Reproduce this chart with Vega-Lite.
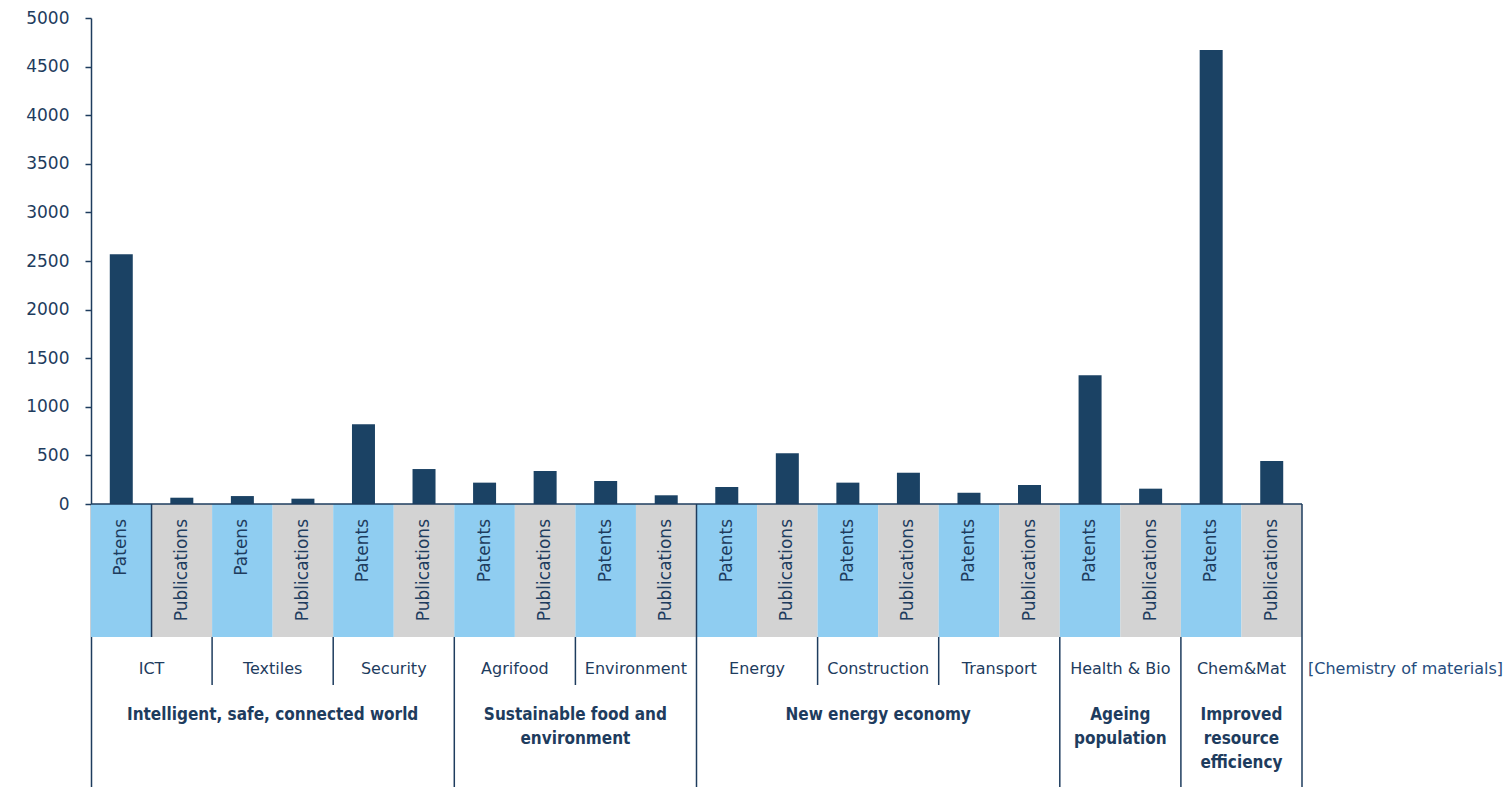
{
  "$schema": "https://vega.github.io/schema/vega-lite/v6.json",
  "width": 1211,
  "height": 769,
  "autosize": {"type": "none"},
  "padding": {"left": 91, "top": 18, "right": 209, "bottom": 0},
  "background": "white",
  "config": {
    "view": {"stroke": null},
    "text": {"font": "DejaVu Sans", "color": "#1e3c5e"},
    "rule": {"color": "#1e3c5e", "strokeWidth": 1.5}
  },
  "datasets": {
    "bars": [
      {"id": "ICT-P", "sector": "ICT", "type": "Patens", "value": 2570},
      {"id": "ICT-U", "sector": "ICT", "type": "Publications", "value": 65},
      {"id": "TEX-P", "sector": "Textiles", "type": "Patens", "value": 82},
      {"id": "TEX-U", "sector": "Textiles", "type": "Publications", "value": 55},
      {"id": "SEC-P", "sector": "Security", "type": "Patents", "value": 821},
      {"id": "SEC-U", "sector": "Security", "type": "Publications", "value": 360},
      {"id": "AGR-P", "sector": "Agrifood", "type": "Patents", "value": 220},
      {"id": "AGR-U", "sector": "Agrifood", "type": "Publications", "value": 340},
      {"id": "ENV-P", "sector": "Environment", "type": "Patents", "value": 237},
      {"id": "ENV-U", "sector": "Environment", "type": "Publications", "value": 90},
      {"id": "ENE-P", "sector": "Energy", "type": "Patents", "value": 175},
      {"id": "ENE-U", "sector": "Energy", "type": "Publications", "value": 522},
      {"id": "CON-P", "sector": "Construction", "type": "Patents", "value": 220},
      {"id": "CON-U", "sector": "Construction", "type": "Publications", "value": 322},
      {"id": "TRA-P", "sector": "Transport", "type": "Patents", "value": 116},
      {"id": "TRA-U", "sector": "Transport", "type": "Publications", "value": 196},
      {"id": "HEA-P", "sector": "Health & Bio", "type": "Patents", "value": 1325},
      {"id": "HEA-U", "sector": "Health & Bio", "type": "Publications", "value": 158},
      {"id": "CHE-P", "sector": "Chem&Mat", "type": "Patents", "value": 4672},
      {"id": "CHE-U", "sector": "Chem&Mat", "type": "Publications", "value": 443}
    ],
    "sectors": [
      {"sector": "ICT", "at": "ICT-U"},
      {"sector": "Textiles", "at": "TEX-U"},
      {"sector": "Security", "at": "SEC-U"},
      {"sector": "Agrifood", "at": "AGR-U"},
      {"sector": "Environment", "at": "ENV-U"},
      {"sector": "Energy", "at": "ENE-U"},
      {"sector": "Construction", "at": "CON-U"},
      {"sector": "Transport", "at": "TRA-U"},
      {"sector": "Health & Bio", "at": "HEA-U"},
      {"sector": "Chem&Mat", "at": "CHE-U", "note": "[Chemistry of materials]"}
    ],
    "groups": [
      {"group": "Intelligent, safe, connected world", "at": "TEX-U"},
      {"group": "Sustainable food and\nenvironment", "at": "ENV-P"},
      {"group": "New energy economy", "at": "CON-U"},
      {"group": "Ageing\npopulation", "at": "HEA-U"},
      {"group": "Improved\nresource\nefficiency", "at": "CHE-U"}
    ],
    "dividers": [
      {"at": "ICT-U", "level": "cell"},
      {"at": "ENE-P", "level": "cell"},
      {"at": "TEX-P", "level": "sector"},
      {"at": "SEC-P", "level": "sector"},
      {"at": "ENV-P", "level": "sector"},
      {"at": "CON-P", "level": "sector"},
      {"at": "TRA-P", "level": "sector"},
      {"at": "AGR-P", "level": "group"},
      {"at": "ENE-P", "level": "group"},
      {"at": "HEA-P", "level": "group"},
      {"at": "CHE-P", "level": "group"},
      {"at": "CHE-U", "level": "end"}
    ]
  },
  "resolve": {"scale": {"y": "independent"}, "axis": {"y": "independent"}},
  "layer": [
    {
      "data": {"name": "bars"},
      "mark": {"type": "bar", "size": 23, "color": "#1b4264"},
      "encoding": {
        "x": {
          "field": "id",
          "type": "nominal",
          "scale": {
            "domain": ["ICT-P", "ICT-U", "TEX-P", "TEX-U", "SEC-P", "SEC-U", "AGR-P", "AGR-U", "ENV-P", "ENV-U", "ENE-P", "ENE-U", "CON-P", "CON-U", "TRA-P", "TRA-U", "HEA-P", "HEA-U", "CHE-P", "CHE-U"],
            "paddingInner": 0,
            "paddingOuter": 0
          },
          "axis": null
        },
        "y": {
          "field": "value",
          "type": "quantitative",
          "scale": {"domain": [-2911, 5000], "nice": false, "zero": false},
          "axis": {
            "title": null,
            "grid": false,
            "format": "d",
            "values": [0, 500, 1000, 1500, 2000, 2500, 3000, 3500, 4000, 4500, 5000],
            "domainColor": "#1e3c5e",
            "domainWidth": 1.5,
            "tickColor": "#1e3c5e",
            "tickSize": 6,
            "tickWidth": 1.5,
            "labelFont": "DejaVu Sans",
            "labelFontSize": 17,
            "labelColor": "#1e3c5e",
            "labelPadding": 16
          }
        }
      }
    },
    {
      "layer": [
        {
          "data": {"name": "bars"},
          "mark": {"type": "rect"},
          "encoding": {
            "x": {"field": "id", "type": "nominal", "axis": null},
            "y": {"datum": 0, "type": "quantitative", "scale": {"domain": [-486, 283], "reverse": true, "nice": false, "zero": false}, "axis": null},
            "y2": {"datum": 133},
            "color": {
              "field": "type",
              "type": "nominal",
              "scale": {"domain": ["Patens", "Patents", "Publications"], "range": ["#8fcdf1", "#8fcdf1", "#d3d3d3"]},
              "legend": null
            }
          }
        },
        {
          "data": {"name": "bars"},
          "mark": {"type": "text", "angle": 270, "align": "right", "baseline": "middle", "fontSize": 17},
          "encoding": {
            "x": {"field": "id", "type": "nominal", "axis": null},
            "y": {"datum": 15, "type": "quantitative", "axis": null},
            "text": {"field": "type"}
          }
        },
        {
          "data": {"name": "sectors"},
          "mark": {"type": "text", "align": "center", "baseline": "middle", "fontSize": 16},
          "encoding": {
            "x": {"field": "at", "type": "nominal", "bandPosition": 0, "axis": null},
            "y": {"datum": 165, "type": "quantitative", "axis": null},
            "text": {"field": "sector"}
          }
        },
        {
          "data": {"name": "sectors"},
          "transform": [{"filter": "isValid(datum.note)"}],
          "mark": {"type": "text", "align": "left", "baseline": "middle", "fontSize": 16, "dx": 6, "color": "#264d7e"},
          "encoding": {
            "x": {"field": "at", "type": "nominal", "bandPosition": 1, "axis": null},
            "y": {"datum": 165, "type": "quantitative", "axis": null},
            "text": {"field": "note"}
          }
        },
        {
          "data": {"name": "groups"},
          "mark": {"type": "text", "align": "center", "baseline": "top", "fontSize": 17, "fontWeight": "bold", "font": "DejaVu Sans Condensed, DejaVu Sans", "lineBreak": "\n", "lineHeight": 24},
          "encoding": {
            "x": {"field": "at", "type": "nominal", "bandPosition": 0, "axis": null},
            "y": {"datum": 203, "type": "quantitative", "axis": null},
            "text": {"field": "group"}
          }
        },
        {
          "data": {"name": "dividers"},
          "transform": [{"filter": "datum.level == 'cell'"}],
          "mark": {"type": "rule"},
          "encoding": {
            "x": {"field": "at", "type": "nominal", "bandPosition": 0, "axis": null},
            "y": {"datum": 0, "type": "quantitative", "axis": null},
            "y2": {"datum": 133}
          }
        },
        {
          "data": {"name": "dividers"},
          "transform": [{"filter": "datum.level == 'sector'"}],
          "mark": {"type": "rule"},
          "encoding": {
            "x": {"field": "at", "type": "nominal", "bandPosition": 0, "axis": null},
            "y": {"datum": 133, "type": "quantitative", "axis": null},
            "y2": {"datum": 181}
          }
        },
        {
          "data": {"name": "dividers"},
          "transform": [{"filter": "datum.level == 'group'"}],
          "mark": {"type": "rule"},
          "encoding": {
            "x": {"field": "at", "type": "nominal", "bandPosition": 0, "axis": null},
            "y": {"datum": 133, "type": "quantitative", "axis": null},
            "y2": {"datum": 283}
          }
        },
        {
          "data": {"name": "dividers"},
          "transform": [{"filter": "datum.level == 'end'"}],
          "mark": {"type": "rule"},
          "encoding": {
            "x": {"field": "at", "type": "nominal", "bandPosition": 1, "axis": null},
            "y": {"datum": 0, "type": "quantitative", "axis": null},
            "y2": {"datum": 283}
          }
        },
        {
          "data": {"values": [{}]},
          "mark": {"type": "rule"},
          "encoding": {
            "y": {"datum": 0, "type": "quantitative", "axis": null}
          }
        }
      ]
    }
  ]
}
